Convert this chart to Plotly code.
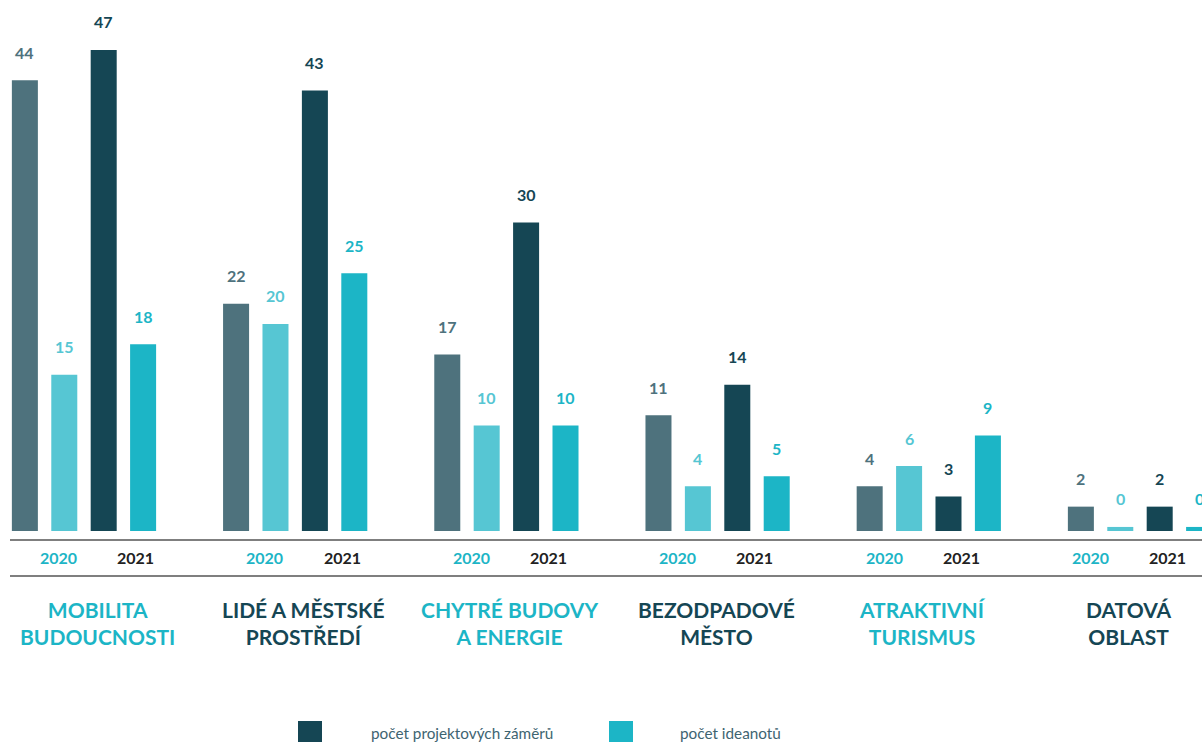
import plotly.graph_objects as go

# ---------------- data ----------------
categories = [
    "MOBILITA<br>BUDOUCNOSTI",
    "LIDÉ A MĚSTSKÉ<br>PROSTŘEDÍ",
    "CHYTRÉ BUDOVY<br>A ENERGIE",
    "BEZODPADOVÉ<br>MĚSTO",
    "ATRAKTIVNÍ<br>TURISMUS",
    "DATOVÁ<br>OBLAST",
]
zamery_2020 = [44, 22, 17, 11, 4, 2]
ideanoty_2020 = [15, 20, 10, 4, 6, 0]
zamery_2021 = [47, 43, 30, 14, 3, 2]
ideanoty_2021 = [18, 25, 10, 5, 9, 0]
year_labels = ["2020", "2021"]
legend_labels = ["počet projektových záměrů", "počet ideanotů"]

# ---------------- style ----------------
C_Z20 = "#4E727D"
C_I20 = "#56C6D3"
C_Z21 = "#154654"
C_I21 = "#1CB5C6"
C_YEAR20 = "#1DB5C6"
C_YEAR21 = "#222222"
CAT_COLORS = [C_I21, C_Z21, C_I21, C_Z21, C_I21, C_Z21]
FONT = "Lato"

W, H = 1202, 742
PLOT_BOTTOM = 531          # pixel row of bar baseline
PX_PER_UNIT = 10.15
STUB = 0.4                 # minimal visible bar height (for zero values)
XR = [-0.3977, 5.2936]


def pyp(p):  # pixel row -> paper y
    return (PLOT_BOTTOM - p) / PLOT_BOTTOM


def pxp(p):  # pixel column -> paper x
    return p / W


series = [
    (zamery_2020, C_Z20, "záměry 2020"),
    (ideanoty_2020, C_I20, "ideanoty 2020"),
    (zamery_2021, C_Z21, "záměry 2021"),
    (ideanoty_2021, C_I21, "ideanoty 2021"),
]

xs = list(range(len(categories)))
fig = go.Figure()
for vals, col, name in series:
    fig.add_trace(go.Bar(
        x=xs, y=[v + STUB for v in vals], base=-STUB,
        customdata=vals, hovertemplate="%{customdata}<extra>" + name + "</extra>",
        marker=dict(color=col, line=dict(width=0)), showlegend=False,
    ))

BARGAP = 0.2536
slot = (1 - BARGAP) / 4
offsets = [(-1.5 + k) * slot for k in range(4)]

annotations = []
# value labels
for k, (vals, col, name) in enumerate(series):
    for g, v in enumerate(vals):
        annotations.append(dict(
            x=g + offsets[k], y=v, xref="x", yref="y", text=f"<b>{v}</b>",
            showarrow=False, yanchor="middle", yshift=28,
            font=dict(family=FONT, size=16, color=col),
        ))

# year labels and category labels
LBL_SCALE = 0.9773
year_off = [-0.1207, 0.2448]
year_cols = [C_YEAR20, C_YEAR21]
for g, cat in enumerate(categories):
    for j, yl in enumerate(year_labels):
        annotations.append(dict(
            x=g * LBL_SCALE + year_off[j], y=pyp(557), xref="x", yref="paper",
            text=f"<b>{yl}</b>", showarrow=False, yanchor="middle",
            font=dict(family=FONT, size=16, color=year_cols[j]),
        ))
    annotations.append(dict(
        x=g * LBL_SCALE + sum(year_off) / 2, y=pyp(623), xref="x", yref="paper",
        text=f"<b>{cat}</b>", showarrow=False, yanchor="middle",
        font=dict(family=FONT, size=21, color=CAT_COLORS[g]),
    ))

shapes = []
for row in (540, 576):
    shapes.append(dict(type="line", xref="paper", yref="paper",
                       x0=pxp(10), x1=1.0, y0=pyp(row), y1=pyp(row),
                       line=dict(color="#555555", width=1.5)))

# legend
leg_sq = [298, 609]
leg_txt = [369, 678]
leg_col = [C_Z21, C_I21]
for i, lab in enumerate(legend_labels):
    shapes.append(dict(type="rect", xref="paper", yref="paper",
                       x0=pxp(leg_sq[i]), x1=pxp(leg_sq[i] + 24),
                       y0=pyp(721), y1=pyp(745),
                       fillcolor=leg_col[i], line=dict(width=0)))
    annotations.append(dict(
        x=pxp(leg_txt[i]), y=pyp(733), xref="paper", yref="paper",
        text=lab, showarrow=False, xanchor="left", yanchor="middle",
        font=dict(family=FONT, size=15.3, color="#3E6471"),
    ))

ymax = -STUB + PLOT_BOTTOM / PX_PER_UNIT
fig.update_layout(
    width=W, height=H,
    margin=dict(l=0, r=0, t=0, b=H - PLOT_BOTTOM, pad=0),
    paper_bgcolor="white", plot_bgcolor="white",
    barmode="group", bargap=BARGAP, bargroupgap=0.34,
    xaxis=dict(range=XR, visible=False, fixedrange=True),
    yaxis=dict(range=[-STUB, ymax], visible=False, fixedrange=True),
    annotations=annotations, shapes=shapes,
    showlegend=False,
)

fig.write_html(
    "out.html",
    config={"displayModeBar": False},
    post_script="document.body.style.margin='0';document.body.style.overflow='hidden';",
)
